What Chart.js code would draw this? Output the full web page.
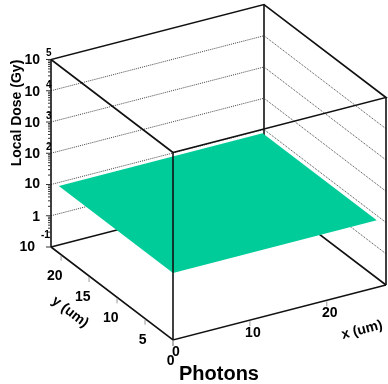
<!DOCTYPE html>
<html>
<head>
<meta charset="utf-8">
<script src="https://cdn.jsdelivr.net/npm/chart.js@4.4.0/dist/chart.umd.min.js"></script>
<style>
  html, body { margin: 0; padding: 0; background: #fff; }
  #wrap { width: 388px; height: 384px; position: relative; }
</style>
</head>
<body>
<div id="wrap"><canvas id="lego"></canvas></div>
<script>
// --- axis ranges (um) and dose decades (log10 Gy) ---
const xRange = [0, 27.7];
const yRange = [0, 21.8];
const zDecades = [-1, 0, 1, 2, 3, 4, 5];
const gridDecades = [0, 1, 2, 3, 4];
const xTicks = [0, 10, 20];
const yTicks = [0, 5, 10, 15, 20];

// --- photon dose map (flat plane), corner bins ---
const surfX = [0, 26.5];
const surfY = [0, 20.4];
const surfDose = [[14, 14], [14, 14]]; // [ix][iy] in Gy

// view: where the 3D box lands on the page
const view = { ox: 173, oy: 340, ex: [213, -55], ey: [-122, -93], ez: 187.5 };

function proj(x, y, dose) {
    const fx = (x - xRange[0]) / (xRange[1] - xRange[0]);
    const fy = (y - yRange[0]) / (yRange[1] - yRange[0]);
    const zl = zDecades[0], zh = zDecades[zDecades.length - 1];
    const fz = (Math.log10(dose) - zl) / (zh - zl);
    return {
        x: view.ox + fx * view.ex[0] + fy * view.ey[0],
        y: view.oy + fx * view.ex[1] + fy * view.ey[1] - fz * view.ez
    };
}

const zMin = 10 ** zDecades[0];
const zMax = 10 ** zDecades[zDecades.length - 1];
const [x0, x1] = xRange;
const [y0, y1] = yRange;

function seg(pts, style, order) {
    return Object.assign({
        data: pts, showLine: true, pointRadius: 0, fill: false, order: order,
        borderColor: '#111', borderWidth: 1.6
    }, style);
}

const datasets = [];
// back walls: dotted grid + hidden edges (drawn first)
gridDecades.forEach(d => {
    const z = 10 ** d;
    datasets.push(seg([proj(x0, y1, z), proj(x1, y1, z), proj(x1, y0, z)],
        { borderColor: '#444', borderWidth: 1, borderDash: [1, 1] }, 3));
});
datasets.push(seg([proj(x0, y1, zMin), proj(x1, y1, zMin), proj(x1, y0, zMin)], {}, 3));
datasets.push(seg([proj(x1, y1, zMin), proj(x1, y1, zMax)], {}, 3));

// surface
datasets.push({
    data: [
        proj(surfX[0], surfY[0], surfDose[0][0]),
        proj(surfX[1], surfY[0], surfDose[1][0]),
        proj(surfX[1], surfY[1], surfDose[1][1]),
        proj(surfX[0], surfY[1], surfDose[0][1])
    ],
    showLine: false, pointRadius: 0, order: 2, surface: true,
    backgroundColor: 'rgb(0,204,153)'
});

// front edges
datasets.push(seg([proj(x0, y0, zMax), proj(x1, y0, zMax), proj(x1, y1, zMax),
                   proj(x0, y1, zMax), proj(x0, y0, zMax)], {}, 1));
datasets.push(seg([proj(x0, y0, zMin), proj(x0, y0, zMax)], {}, 1));
datasets.push(seg([proj(x1, y0, zMin), proj(x1, y0, zMax)], {}, 1));
datasets.push(seg([proj(x0, y1, zMin), proj(x0, y1, zMax)], {}, 1));
datasets.push(seg([proj(x0, y1, zMin), proj(x0, y0, zMin), proj(x1, y0, zMin)], {}, 1));

// fill the surface polygon at its dataset's turn
const surfacePlugin = {
    id: 'surface',
    beforeDatasetDraw(chart, args) {
        const ds = chart.data.datasets[args.index];
        if (!ds.surface) return;
        const pts = args.meta.data;
        const ctx = chart.ctx;
        ctx.save();
        ctx.beginPath();
        pts.forEach((p, i) => i ? ctx.lineTo(p.x, p.y) : ctx.moveTo(p.x, p.y));
        ctx.closePath();
        ctx.fillStyle = ds.backgroundColor;
        ctx.fill();
        ctx.restore();
    }
};

// axis ticks + labels
const FONT = '"Liberation Sans", Arial, Helvetica, sans-serif';
const axisPlugin = {
    id: 'axes3d',
    afterDatasetsDraw(chart) {
        const ctx = chart.ctx;
        const sx = chart.scales.x, sy = chart.scales.y;
        const px = p => ({ x: sx.getPixelForValue(p.x), y: sy.getPixelForValue(p.y) });
        const line = (a, b, col, w) => {
            ctx.beginPath(); ctx.moveTo(a.x, a.y); ctx.lineTo(b.x, b.y);
            ctx.strokeStyle = col; ctx.lineWidth = w; ctx.stroke();
        };
        const text = (s, x, y, align, font, base) => {
            ctx.font = font; ctx.textAlign = align; ctx.textBaseline = base || 'middle';
            ctx.fillStyle = '#000'; ctx.fillText(s, x, y);
        };
        ctx.save();

        // z ticks (log)
        for (let d = zDecades[0]; d <= zDecades[zDecades.length - 1]; d++) {
            for (let k = 1; k <= 9; k++) {
                const v = k * 10 ** d;
                if (v > zMax * 1.0001) break;
                const p = px(proj(x0, y1, v));
                line({ x: p.x - (k === 1 ? 5 : 3), y: p.y }, p, '#333', 1);
            }
        }
        // z labels
        const big = 'bold 14px ' + FONT, sup = 'bold 10px ' + FONT;
        zDecades.forEach(d => {
            const p = px(proj(x0, y1, 10 ** d));
            if (d === 0) {
                text('1', p.x - 11, p.y + 1, 'right', big);
            } else if (d === 1) {
                text('10', p.x - 11, p.y, 'right', big);
            } else if (d < 0) {
                text('10', p.x - 16, p.y, 'right', big);
                text(String(d), p.x - 10, p.y - 12, 'left', sup);
            } else {
                text('10', p.x - 11, p.y + 1, 'right', big);
                text(String(d), p.x - 5, p.y - 6, 'left', sup);
            }
        });

        // y ticks + labels
        yTicks.forEach(t => {
            const p = px(proj(x0, t, zMin));
            line({ x: p.x, y: p.y + 1 }, { x: p.x, y: p.y + 6 }, '#999', 1);
            text(String(t), p.x + 1.5, p.y + 21, 'right', big);
        });
        // x ticks + labels
        xTicks.forEach(t => {
            const p = px(proj(t, y0, zMin));
            line({ x: p.x, y: p.y + 1 }, { x: p.x, y: p.y + 6 }, '#999', 1);
            text(String(t), p.x + 3, p.y + 12.5, 'center', big);
        });

        // axis titles
        ctx.save();
        ctx.translate(17.5, 113);
        ctx.rotate(-Math.PI / 2);
        text('Local Dose (Gy)', 0, 0, 'center', big);
        ctx.restore();

        const ym = px(proj(x0, (y0 + y1) / 2, zMin));
        ctx.save();
        ctx.translate(ym.x - 42, ym.y + 18.5);
        ctx.rotate(Math.atan2(-view.ey[1], -view.ey[0]));
        text('y (um)', 0, 0, 'center', big);
        ctx.restore();

        const xe = px(proj(x1, y0, zMin));
        ctx.save();
        ctx.translate(xe.x - 24, xe.y + 45);
        ctx.rotate(Math.atan2(view.ex[1], view.ex[0]));
        text('x (um)', 0, 0, 'center', big);
        ctx.restore();

        text('Photons', 179, 380, 'left', 'bold 20px ' + FONT, 'alphabetic');
        ctx.restore();
    }
};

new Chart(document.getElementById('lego'), {
    type: 'scatter',
    data: { datasets: datasets },
    options: {
        responsive: true,
        maintainAspectRatio: false,
        animation: false,
        events: [],
        layout: { padding: 0 },
        plugins: { legend: { display: false }, tooltip: { enabled: false } },
        scales: {
            x: { type: 'linear', min: 0, max: 388, display: false },
            y: { type: 'linear', min: 0, max: 384, reverse: true, display: false }
        }
    },
    plugins: [surfacePlugin, axisPlugin]
});
</script>
</body>
</html>
